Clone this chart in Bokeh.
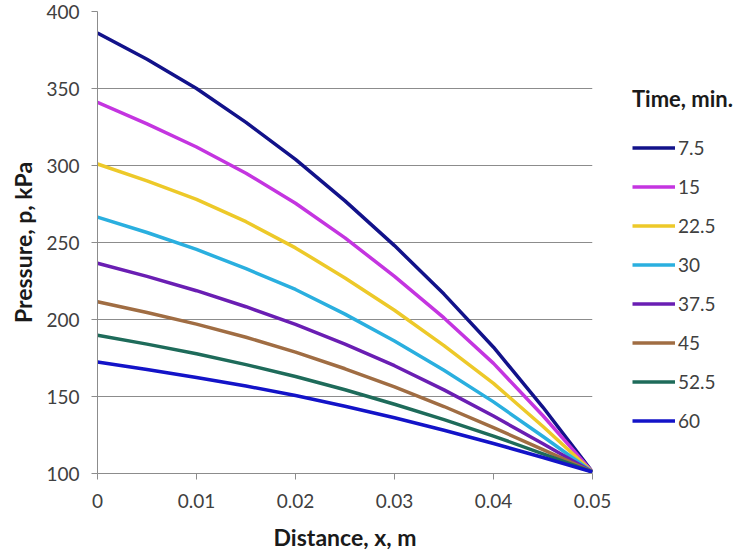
from bokeh.plotting import figure
from bokeh.models import Legend, LegendItem, FixedTicker, CustomJSTickFormatter, Range1d
from bokeh.embed import file_html
from bokeh.resources import INLINE

# ---- data ----
x_m = [0, 0.005, 0.01, 0.015, 0.02, 0.025, 0.03, 0.035, 0.04, 0.045, 0.05]
p_7_5 = [386, 369, 350, 328, 304, 277, 248, 216.5, 182, 143, 101]
p_15 = [341, 327, 312, 295, 275.5, 253, 228, 201, 171.5, 137.5, 101]
p_22_5 = [301, 290, 278, 263.5, 246.5, 227, 206, 183, 158.5, 130.5, 101]
p_30 = [266.5, 256.5, 245.5, 233, 219.5, 203.5, 186, 167, 146.5, 124, 101]
p_37_5 = [236.5, 228, 218.7, 208.3, 196.8, 184, 170, 154.3, 137.3, 119.3, 101]
p_45 = [211.5, 204.5, 197, 188.5, 178.8, 168, 156.2, 143.5, 129.8, 115.5, 101]
p_52_5 = [189.8, 184, 177.7, 170.7, 163, 154.4, 145, 135, 124.3, 112.8, 101]
p_60 = [172.4, 167.6, 162.4, 156.8, 150.6, 143.7, 136.2, 128.1, 119.5, 110.4, 101]

time_labels = ["7.5", "15", "22.5", "30", "37.5", "45", "52.5", "60"]
series = [p_7_5, p_15, p_22_5, p_30, p_37_5, p_45, p_52_5, p_60]
colors = ["#12128A", "#C435E0", "#EDC929", "#2AAFDF", "#6A1EB3", "#A06D43", "#1E6B5A", "#1313C8"]

x_ticks = [0, 0.01, 0.02, 0.03, 0.04, 0.05]
y_ticks = [100, 150, 200, 250, 300, 350, 400]

FONT = "Lato"

p = figure(frame_width=495, frame_height=462, output_backend="svg", toolbar_location=None,
           x_range=Range1d(0, 0.05), y_range=Range1d(100, 400),
           min_border_left=97, min_border_right=138, min_border_top=11, min_border_bottom=77)
p.outline_line_color = None
p.background_fill_color = "white"
p.border_fill_color = "white"

items = []
for lab, ys, c in zip(time_labels, series, colors):
    r = p.line(x_m, ys, line_color=c, line_width=3.5, line_join="round")
    items.append(LegendItem(label=lab, renderers=[r]))

# grid
p.xgrid.visible = False
p.ygrid.grid_line_color = "#8C8C8C"
p.ygrid.grid_line_width = 1
p.ygrid.ticker = FixedTicker(ticks=y_ticks)

# axes
p.xaxis.ticker = FixedTicker(ticks=x_ticks)
p.yaxis.ticker = FixedTicker(ticks=y_ticks)
p.xaxis.formatter = CustomJSTickFormatter(code="return tick.toFixed(2).replace(/\\.?0+$/, '');")
for ax in (p.xaxis[0], p.yaxis[0]):
    ax.axis_line_color = "#8C8C8C"
    ax.major_tick_line_color = "#8C8C8C"
    ax.major_tick_out = 6
    ax.major_tick_in = 0
    ax.minor_tick_out = 0
    ax.minor_tick_in = 0
    ax.major_label_text_font = FONT
    ax.major_label_text_font_size = "19px"
    ax.major_label_text_color = "#404040"
    ax.axis_label_text_font = FONT
    ax.axis_label_text_font_style = "bold"
    ax.axis_label_text_font_size = "23px"
    ax.axis_label_text_color = "#1A1A1A"
p.xaxis.major_label_standoff = 14
p.yaxis.major_label_standoff = 12
p.xaxis.axis_label = "Distance, x, m"
p.yaxis.axis_label = "Pressure, p, kPa"
p.xaxis.axis_label_standoff = 12
p.yaxis.axis_label_standoff = 6

# legend (right side panel)
legend = Legend(items=items, location=(40, 41), orientation="vertical",
                title="Time, min.", title_text_font=FONT, title_text_font_style="bold",
                title_text_font_size="22px", title_text_color="#1A1A1A", title_standoff=24,
                glyph_width=43, glyph_height=23, label_height=23, spacing=16,
                padding=0, margin=0, label_standoff=3,
                label_text_font=FONT, label_text_font_size="19px", label_text_color="#404040",
                border_line_color=None, background_fill_alpha=0)
p.add_layout(legend, "right")

open("out.html", "w").write(file_html(p, INLINE))
